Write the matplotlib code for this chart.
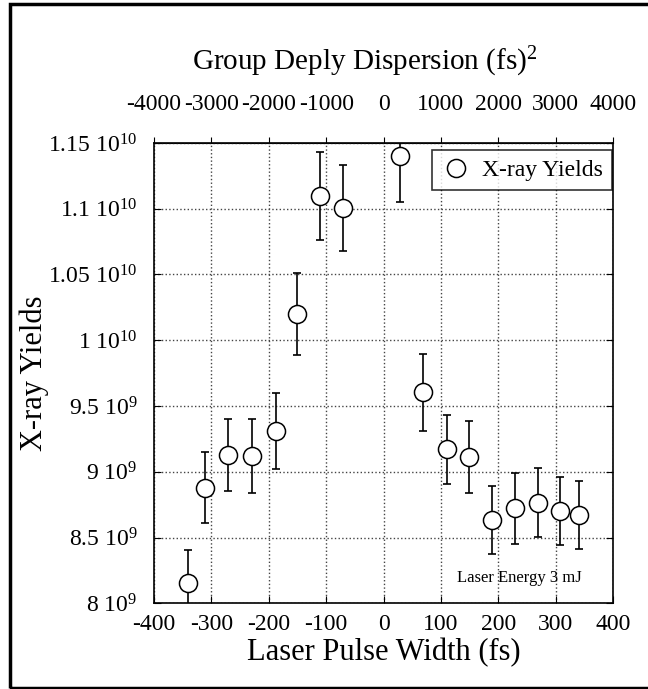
import matplotlib
matplotlib.use("Agg")
import matplotlib.pyplot as plt
from matplotlib.patches import Rectangle

plt.rcParams['font.family'] = ['Liberation Serif', 'DejaVu Serif']
plt.rcParams['mathtext.fontset'] = 'custom'
plt.rcParams['mathtext.rm'] = 'Liberation Serif'
plt.rcParams['mathtext.it'] = 'Liberation Serif:italic'
plt.rcParams['axes.unicode_minus'] = False

# Pulse width (fs), yield, error
pulse_width = [-340, -312, -271, -229, -188, -150, -111, -70, 29,
               69, 110, 149, 189, 229, 270, 308, 340]
xray_yield = [8.157e9, 8.88e9, 9.127e9, 9.12e9, 9.31e9, 10.198e9, 11.10e9, 11.006e9, 11.40e9,
              9.603e9, 9.17e9, 9.114e9, 8.633e9, 8.722e9, 8.765e9, 8.70e9, 8.67e9]
yield_err = [0.25e9, 0.27e9, 0.276e9, 0.28e9, 0.286e9, 0.31e9, 0.335e9, 0.327e9, 0.35e9,
             0.29e9, 0.264e9, 0.272e9, 0.257e9, 0.268e9, 0.26e9, 0.26e9, 0.26e9]

x_ticks = [-400, -300, -200, -100, 0, 100, 200, 300, 400]
top_ticks = [-4000, -3000, -2000, -1000, 0, 1000, 2000, 3000, 4000]
y_ticks = [8e9, 8.5e9, 9e9, 9.5e9, 1e10, 1.05e10, 1.1e10, 1.15e10]
y_tick_labels = [r"8 10$^{9}$", r"8.5 10$^{9}$", r"9 10$^{9}$", r"9.5 10$^{9}$",
                 r"1 10$^{10}$", r"1.05 10$^{10}$", r"1.1 10$^{10}$", r"1.15 10$^{10}$"]

fig = plt.figure(figsize=(6.48, 6.89), dpi=100)
ax = fig.add_axes([0.2377, 0.1244, 0.7083, 0.6681])

ax.errorbar(pulse_width, xray_yield, yerr=yield_err, fmt='none', ecolor='black',
            elinewidth=1.2, capsize=3, capthick=1.2, zorder=3)
ax.plot(pulse_width, xray_yield, 'o', mfc='white', mec='black', ms=13, mew=1.1,
        label='X-ray Yields', zorder=4)

ax.set_xlim(-400, 400)
ax.set_ylim(8e9, 1.15e10)
ax.set_xticks(x_ticks)
ax.set_yticks(y_ticks)
ax.set_yticklabels(y_tick_labels)
ax.tick_params(direction='in', labelsize=17, length=5, right=True, pad=8)
ax.tick_params(axis='y', pad=12)
ax.grid(True, linestyle=':', color='#444444', linewidth=1.0)
for s in ax.spines.values():
    s.set_linewidth(1.2)

ax.set_xlabel("Laser Pulse Width (fs)", fontsize=22, labelpad=2)
ax.set_ylabel("X-ray Yields", fontsize=22)
ax.yaxis.set_label_coords(-0.228, 0.5)

top = ax.secondary_xaxis('top', functions=(lambda v: v * 10, lambda v: v / 10))
top.set_xticks(top_ticks)
top.tick_params(direction='out', labelsize=17, length=4, pad=16)
fig.text(365 / 648, 1 - 62 / 689, r"Group Deply Dispersion (fs)$^{2}$",
         fontsize=21, ha='center', va='center')

leg = ax.legend(loc='upper right', fontsize=17, frameon=True, fancybox=False,
                edgecolor='black', borderaxespad=0.3, handletextpad=0.5,
                handlelength=1.2, borderpad=0.4, bbox_to_anchor=(1.013, 1.0))
leg.get_frame().set_linewidth(1.2)

ax.text(237, 8.19e9, "Laser Energy 3 mJ", fontsize=12, ha='center', va='center')

# outer frame (left, top, bottom)
fig.add_artist(Rectangle((10 / 648, 1 - 688 / 689), 1.0, (684) / 689,
                         transform=fig.transFigure, fill=False,
                         edgecolor='black', linewidth=2.5))

fig.savefig("out.png", dpi=100)
